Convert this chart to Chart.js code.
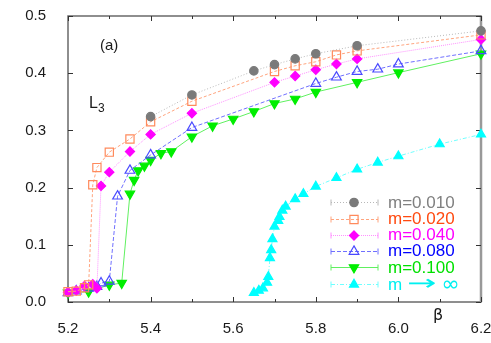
<!DOCTYPE html>
<html><head><meta charset="utf-8">
<script src="https://cdn.jsdelivr.net/npm/chart.js@4/dist/chart.umd.min.js"></script>
<style>html,body{margin:0;padding:0;background:#fff;}canvas{display:block;}</style>
</head><body>
<canvas id="c" width="491" height="343"></canvas>
<script>
// ---- data ----
const xTicks = [5.2, 5.4, 5.6, 5.8, 6.0, 6.2];
const yTicks = [0.0, 0.1, 0.2, 0.3, 0.4, 0.5];
const seriesLabels = ["m=0.010", "m=0.020", "m=0.040", "m=0.080", "m=0.100", "m \u2192 \u221E"];

const beta010 = [5.40, 5.50, 5.65, 5.70, 5.75, 5.80, 5.90, 6.20];
const L3_010  = [0.324, 0.362, 0.404, 0.415, 0.425, 0.434, 0.448, 0.474];

const beta020 = [5.20, 5.22, 5.24, 5.25, 5.26, 5.27, 5.30, 5.35, 5.40, 5.50, 5.70, 5.75, 5.80, 5.85, 5.90, 6.20];
const L3_020  = [0.018, 0.019, 0.025, 0.030, 0.205, 0.235, 0.262, 0.285, 0.315, 0.351, 0.403, 0.413, 0.420, 0.432, 0.439, 0.467];

const beta040 = [5.20, 5.22, 5.24, 5.26, 5.27, 5.28, 5.30, 5.35, 5.40, 5.50, 5.70, 5.75, 5.80, 5.85, 5.90, 6.20];
const L3_040  = [0.017, 0.020, 0.028, 0.031, 0.024, 0.203, 0.227, 0.263, 0.293, 0.330, 0.384, 0.395, 0.406, 0.416, 0.425, 0.459];

const beta080 = [5.20, 5.22, 5.25, 5.27, 5.28, 5.30, 5.32, 5.35, 5.40, 5.50, 5.80, 5.85, 5.90, 5.95, 6.00, 6.20];
const L3_080  = [0.016, 0.019, 0.024, 0.027, 0.033, 0.036, 0.185, 0.230, 0.257, 0.305, 0.382, 0.393, 0.403, 0.407, 0.416, 0.439];

const beta100 = [5.20, 5.25, 5.30, 5.33, 5.35, 5.36, 5.37, 5.385, 5.40, 5.425, 5.45, 5.50, 5.55, 5.60, 5.65, 5.70, 5.75, 5.80, 5.90, 6.00, 6.20];
const L3_100  = [0.016, 0.018, 0.030, 0.033, 0.189, 0.213, 0.230, 0.238, 0.248, 0.260, 0.263, 0.289, 0.308, 0.320, 0.333, 0.347, 0.355, 0.367, 0.384, 0.401, 0.434];

const betaInf = [5.65, 5.662, 5.672, 5.682, 5.685, 5.689, 5.692, 5.695, 5.70, 5.709, 5.712, 5.719, 5.727, 5.75, 5.77, 5.80, 5.85, 5.90, 5.95, 6.00, 6.10, 6.20];
const L3_Inf  = [0.016, 0.020, 0.024, 0.034, 0.044, 0.077, 0.091, 0.110, 0.132, 0.142, 0.149, 0.160, 0.167, 0.180, 0.189, 0.202, 0.217, 0.232, 0.244, 0.255, 0.276, 0.293];

// ---- styling ----
const styles = [
  {line:'#b8b8b8', dash:[1,2], point:'circle', fill:'#7a7a7a', stroke:'#7a7a7a', r:4.2, rot:0, text:'#808080'},
  {line:'#ffa47e', dash:[3,2], point:'rect', fill:'rgba(0,0,0,0)', stroke:'#ff8a5c', r:5.8, rot:0, text:'#ff4a10'},
  {line:'#ff90ff', dash:[1,1], point:'rectRot', fill:'#ff00ff', stroke:'#ff00ff', r:4.6, rot:0, text:'#ff00ff'},
  {line:'#7070ff', dash:[4,2], point:'triangle', fill:'rgba(0,0,0,0)', stroke:'#4a4aff', r:5.6, rot:0, text:'#0000ff'},
  {line:'#60f060', dash:[], point:'triangle', fill:'#00ee00', stroke:'#00ee00', r:5.4, rot:180, text:'#00e000'},
  {line:'#70ffff', dash:[4,2,1,2], point:'triangle', fill:'#00ffff', stroke:'#00ffff', r:5.2, rot:0, text:'#00f0f0'}
];
const xs = [beta010, beta020, beta040, beta080, beta100, betaInf];
const ys = [L3_010, L3_020, L3_040, L3_080, L3_100, L3_Inf];

const datasets = xs.map((bx, i) => ({
  label: seriesLabels[i],
  data: bx.map((b, j) => ({x: b, y: ys[i][j]})),
  showLine: true,
  borderColor: styles[i].line,
  borderWidth: 1,
  borderDash: styles[i].dash,
  pointStyle: styles[i].point,
  pointRadius: styles[i].r,
  pointRotation: styles[i].rot,
  pointBackgroundColor: styles[i].fill,
  pointBorderColor: styles[i].stroke,
  pointBorderWidth: 1.2,
  tension: 0,
  clip: false
}));

function drawMarker(ctx, s, x, y) {
  ctx.save();
  ctx.translate(x, y);
  ctx.rotate(s.rot * Math.PI / 180);
  ctx.beginPath();
  const r = s.r;
  if (s.point === 'circle') ctx.arc(0, 0, r, 0, Math.PI * 2);
  else if (s.point === 'rect') { const h = Math.SQRT1_2 * r; ctx.rect(-h, -h, 2*h, 2*h); }
  else if (s.point === 'rectRot') { ctx.moveTo(0,-r); ctx.lineTo(r,0); ctx.lineTo(0,r); ctx.lineTo(-r,0); ctx.closePath(); }
  else if (s.point === 'triangle') { for (let k=0;k<3;k++){ const a = k*2*Math.PI/3; const px=Math.sin(a)*r, py=-Math.cos(a)*r; k?ctx.lineTo(px,py):ctx.moveTo(px,py);} ctx.closePath(); }
  ctx.fillStyle = s.fill; ctx.fill();
  ctx.strokeStyle = s.stroke; ctx.lineWidth = 1.2; ctx.setLineDash([]); ctx.stroke();
  ctx.restore();
}

const framePlugin = {
  id: 'frame',
  beforeDatasetsDraw(chart) {
    const {ctx, chartArea: a, scales} = chart;
    const X = scales.x, Y = scales.y;
    ctx.save();
    ctx.strokeStyle = '#6a6a6a'; ctx.lineWidth = 1.5; ctx.setLineDash([]);
    ctx.strokeRect(a.left, a.top, a.right - a.left, a.bottom - a.top);
    ctx.strokeStyle = '#999'; ctx.lineWidth = 2.5;
    ctx.beginPath(); ctx.moveTo(a.right, a.top); ctx.lineTo(a.right, a.bottom); ctx.stroke();
    ctx.strokeStyle = '#333'; ctx.lineWidth = 1;
    for (let k = 0; k <= 10; k++) {
      const v = 5.2 + k * 0.1; const px = Math.round(X.getPixelForValue(v)) + 0.5;
      const len = (k % 2 === 0) ? 5 : 3;
      ctx.beginPath();
      ctx.moveTo(px, a.bottom); ctx.lineTo(px, a.bottom - len);
      ctx.moveTo(px, a.top); ctx.lineTo(px, a.top + len);
      ctx.stroke();
    }
    yTicks.forEach(v => {
      const py = Math.round(Y.getPixelForValue(v)) + 0.5;
      ctx.beginPath();
      ctx.moveTo(a.left, py); ctx.lineTo(a.left + 5, py);
      ctx.moveTo(a.right, py); ctx.lineTo(a.right - 5, py);
      ctx.stroke();
    });
    ctx.restore();
  },
  afterDraw(chart) {
    const {ctx} = chart;
    ctx.save();
    ctx.fillStyle = '#1a1a1a';
    ctx.font = '15px "Liberation Sans", Arial, sans-serif';
    ctx.textBaseline = 'middle'; ctx.textAlign = 'left';
    ctx.fillText('(a)', 100, 46);
    ctx.font = '16px "Liberation Sans", Arial, sans-serif';
    ctx.fillText('L', 89, 104);
    ctx.font = '12px "Liberation Sans", Arial, sans-serif';
    ctx.fillText('3', 98, 109);
    ctx.font = '16px "DejaVu Sans", sans-serif';
    ctx.fillText('\u03B2', 433, 316);
    // legend
    const lx0 = 331, lx1 = 378, mx = 354, tx = 388;
    const rowsY = [202, 218.5, 234.5, 250.5, 267, 284];
    styles.forEach((s, i) => {
      const yy = Math.round(rowsY[i]) + 0.5;
      ctx.strokeStyle = s.line; ctx.lineWidth = 1; ctx.setLineDash(s.dash);
      ctx.beginPath(); ctx.moveTo(lx0, yy); ctx.lineTo(lx1, yy); ctx.stroke();
      ctx.setLineDash([]);
      ctx.beginPath(); ctx.moveTo(lx0, yy - 3); ctx.lineTo(lx0, yy + 3); ctx.moveTo(lx1, yy - 3); ctx.lineTo(lx1, yy + 3); ctx.stroke();
      drawMarker(ctx, s, mx, yy);
      ctx.fillStyle = s.text;
      ctx.textAlign = 'left'; ctx.textBaseline = 'middle';
      const label = seriesLabels[i];
      if (label.indexOf('\u2192') >= 0) {
        // render the symbolic label with larger arrow / infinity glyphs
        const parts = label.split(' ');
        let x = tx;
        ctx.font = '17px "Liberation Sans", Arial, sans-serif';
        ctx.fillText(parts[0], x, rowsY[i] + 1);
        x += ctx.measureText(parts[0]).width + 5;
        ctx.font = '26px "DejaVu Sans", sans-serif';
        ctx.save(); ctx.translate(x, rowsY[i] + 1); ctx.scale(1.35, 0.8);
        ctx.fillText(parts[1], 0, 0);
        const aw = ctx.measureText(parts[1]).width * 1.35;
        ctx.restore();
        x += aw + 5;
        ctx.font = '22px "DejaVu Sans", sans-serif';
        ctx.fillText(parts[2], x, rowsY[i] + 1);
      } else {
        ctx.font = '17px "Liberation Sans", Arial, sans-serif';
        ctx.fillText(label, tx, rowsY[i] + 1);
      }
    });
    ctx.restore();
  }
};

new Chart(document.getElementById('c'), {
  type: 'scatter',
  data: { datasets },
  options: {
    responsive: false,
    animation: false,
    devicePixelRatio: 1,
    layout: { padding: { top: 16, right: 10, left: 0, bottom: 0 } },
    plugins: { legend: { display: false }, tooltip: { enabled: false } },
    scales: {
      x: {
        type: 'linear', min: 5.2, max: 6.2,
        afterBuildTicks: s => { s.ticks = xTicks.map(v => ({ value: v })); },
        afterFit: s => { s.height = 41; s.paddingLeft = 0; s.paddingRight = 0; s.paddingTop = 0; s.paddingBottom = 0; },
        grid: { display: false }, border: { display: false },
        ticks: { color: '#1a1a1a', font: { family: '"Liberation Sans", Arial, sans-serif', size: 15 }, padding: 10, maxRotation: 0, autoSkip: false, callback: v => Number(v).toFixed(1) }
      },
      y: {
        type: 'linear', min: 0, max: 0.5,
        afterBuildTicks: s => { s.ticks = yTicks.map(v => ({ value: v })); },
        afterFit: s => { s.width = 68; s.paddingLeft = 0; s.paddingRight = 0; s.paddingTop = 0; s.paddingBottom = 0; },
        grid: { display: false }, border: { display: false },
        ticks: { color: '#1a1a1a', font: { family: '"Liberation Sans", Arial, sans-serif', size: 15 }, padding: 14, callback: v => Number(v).toFixed(1) }
      }
    }
  },
  plugins: [framePlugin]
});
</script>
</body></html>
